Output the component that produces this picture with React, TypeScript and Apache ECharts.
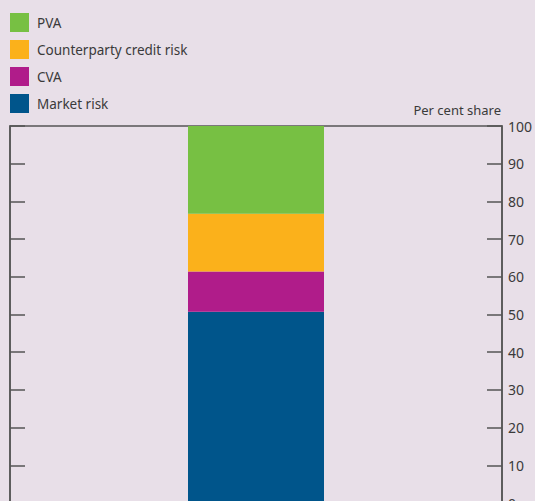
import React, { useEffect, useRef } from "react";
import * as echarts from "echarts";

const categories = ["Share"];
const marketRisk = [50.7];
const cva = [10.7];
const ccr = [15.3];
const pva = [23.3];
const legendOrder = ["PVA", "Counterparty credit risk", "CVA", "Market risk"];
const yTicks = [0, 10, 20, 30, 40, 50, 60, 70, 80, 90, 100];

const FONT = "Noto Sans";
const TXT = "#3a3a3a";
const AX = "#555555";

export default function App() {
  const ref = useRef<HTMLDivElement>(null);
  useEffect(() => {
    if (!ref.current) return;
    const chart = echarts.init(ref.current, null, { renderer: "svg" });
    const mk = (name: string, data: number[], color: string) => ({
      name,
      type: "bar",
      stack: "total",
      data,
      barWidth: 136,
      itemStyle: { color },
      emphasis: { disabled: true },
    });
    chart.setOption({
      animation: false,
      backgroundColor: "#e8dfe8",
      textStyle: { fontFamily: FONT },
      legend: {
        data: legendOrder,
        orient: "vertical",
        left: 5,
        top: 8,
        itemWidth: 19,
        itemHeight: 19,
        itemGap: 8,
        icon: "rect",
        selectedMode: false,
        textStyle: { fontSize: 13.5, color: TXT, fontFamily: FONT, padding: [0, 0, 0, 3] },
      },
      grid: {
        left: 10,
        right: 33,
        top: 126,
        bottom: -2,
        outerBoundsMode: "none",
        containLabel: false,
        show: true,
        borderColor: AX,
        borderWidth: 1.5,
        backgroundColor: "transparent",
      },
      graphic: [
        {
          type: "text",
          right: 34,
          top: 103,
          style: { text: "Per cent share", fontSize: 13, fill: TXT, fontFamily: FONT },
        },
      ],
      xAxis: {
        type: "category",
        data: categories,
        axisLine: { show: false },
        axisTick: { show: false },
        axisLabel: { show: false },
      },
      yAxis: [
        {
          type: "value",
          position: "left",
          min: yTicks[0],
          max: yTicks[yTicks.length - 1],
          interval: 10,
          axisLine: { show: true, lineStyle: { color: AX, width: 1.5 } },
          axisTick: { show: true, inside: true, length: 15, lineStyle: { color: AX, width: 1.5 } },
          axisLabel: { show: false },
          splitLine: { show: false },
        },
        {
          type: "value",
          position: "right",
          min: yTicks[0],
          max: yTicks[yTicks.length - 1],
          interval: 10,
          axisLine: { show: true, lineStyle: { color: AX, width: 1.5 } },
          axisTick: { show: true, inside: true, length: 15, lineStyle: { color: AX, width: 1.5 } },
          axisLabel: { show: true, color: TXT, fontSize: 14, fontFamily: FONT, margin: 6 },
          splitLine: { show: false },
        },
      ],
      series: [
        mk("Market risk", marketRisk, "#00558b"),
        mk("CVA", cva, "#b01c8a"),
        mk("Counterparty credit risk", ccr, "#fbb11b"),
        mk("PVA", pva, "#77c043"),
      ],
    });
    return () => chart.dispose();
  }, []);
  return (
    <div
      ref={ref}
      style={{ position: "fixed", left: 0, top: 0, width: 535, height: 501 }}
    />
  );
}
